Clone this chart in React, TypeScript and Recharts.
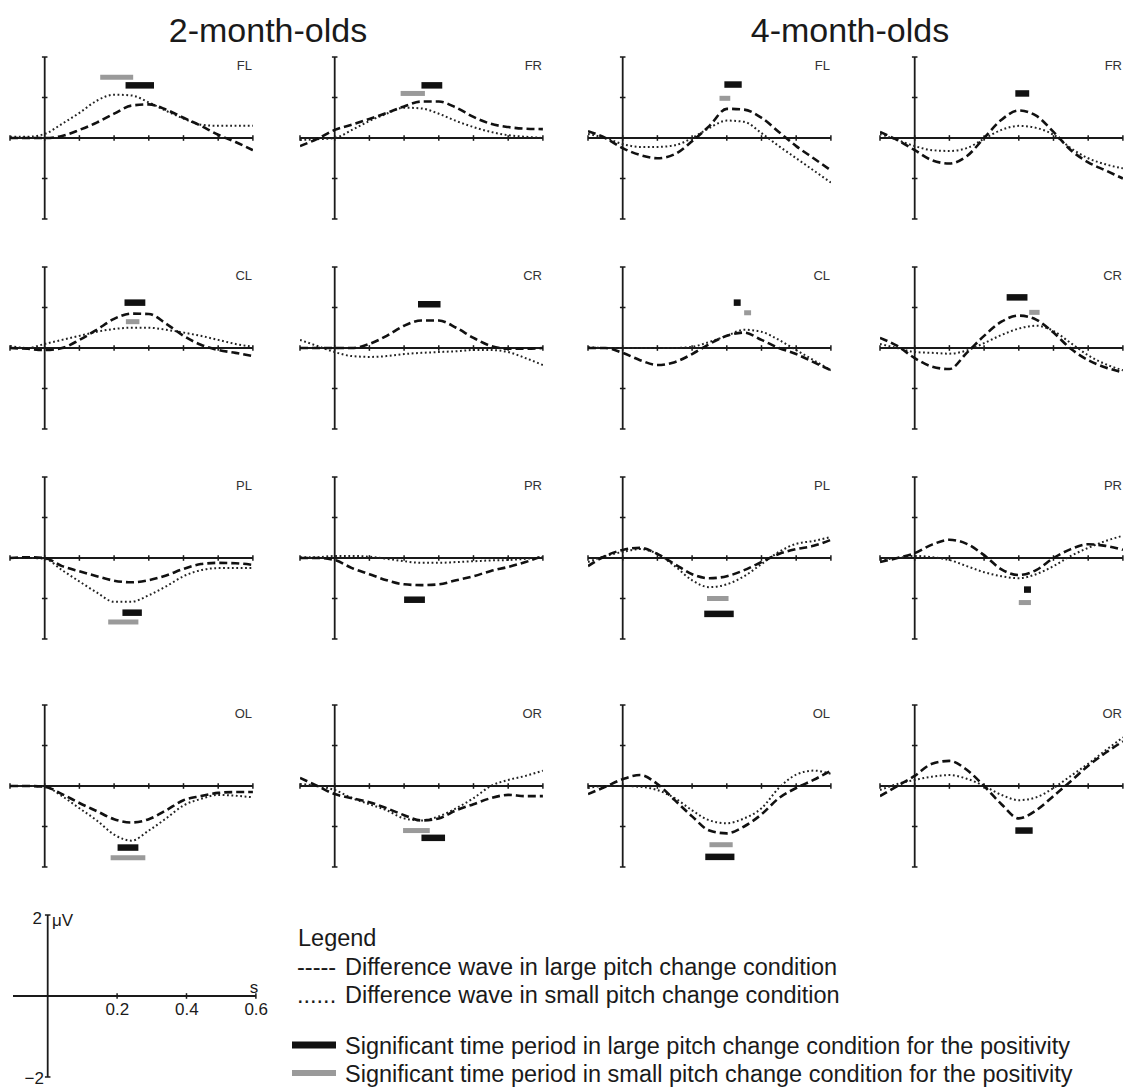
import React from 'react';
import { LineChart, Line, XAxis, YAxis, ReferenceLine } from 'recharts';

// sample times (s)
const times = [-0.1, -0.05, 0, 0.05, 0.1, 0.15, 0.2, 0.25, 0.3, 0.35, 0.4, 0.45, 0.5, 0.55, 0.6];
const xTicks = [-0.1, 0, 0.1, 0.2, 0.3, 0.4, 0.5, 0.6];
const yTicks = [-2, -1, 1, 2];

// difference waves (µV), large / small pitch change
const fl2Large = [0, 0, 0, 0.05, 0.2, 0.38, 0.6, 0.8, 0.83, 0.7, 0.5, 0.3, 0.08, -0.1, -0.3];
const fl2Small = [0.03, 0.03, 0.1, 0.35, 0.62, 0.92, 1.07, 1.05, 0.88, 0.67, 0.48, 0.33, 0.3, 0.3, 0.3];
const fr2Large = [-0.2, -0.02, 0.2, 0.33, 0.47, 0.62, 0.78, 0.9, 0.9, 0.75, 0.52, 0.35, 0.27, 0.23, 0.22];
const fr2Small = [-0.05, -0.03, 0, 0.2, 0.42, 0.6, 0.75, 0.73, 0.6, 0.42, 0.27, 0.15, 0.07, 0.03, 0];
const fl4Large = [0.17, 0, -0.25, -0.42, -0.5, -0.4, -0.08, 0.3, 0.72, 0.7, 0.5, 0.15, -0.2, -0.5, -0.8];
const fl4Small = [0.1, 0, -0.15, -0.22, -0.22, -0.18, 0, 0.25, 0.43, 0.4, 0.12, -0.2, -0.5, -0.8, -1.1];
const fr4Large = [0.15, -0.05, -0.3, -0.55, -0.63, -0.45, 0, 0.45, 0.68, 0.55, 0.15, -0.3, -0.6, -0.8, -1.0];
const fr4Small = [0.1, -0.05, -0.2, -0.3, -0.32, -0.25, -0.02, 0.2, 0.3, 0.25, 0.08, -0.25, -0.5, -0.65, -0.75];

const cl2Large = [0, -0.02, -0.05, 0, 0.2, 0.45, 0.72, 0.85, 0.84, 0.6, 0.3, 0.08, -0.05, -0.12, -0.2];
const cl2Small = [0.05, 0, 0.1, 0.2, 0.3, 0.4, 0.47, 0.5, 0.5, 0.45, 0.38, 0.3, 0.2, 0.1, 0.03];
const cr2Large = [0, 0, 0, 0, 0.1, 0.3, 0.55, 0.68, 0.68, 0.5, 0.25, 0.05, -0.02, -0.02, 0];
const cr2Small = [0.2, 0.05, -0.1, -0.2, -0.22, -0.2, -0.15, -0.12, -0.1, -0.08, -0.05, -0.05, -0.1, -0.25, -0.42];
const cl4Large = [0, 0, -0.12, -0.3, -0.42, -0.35, -0.15, 0.1, 0.3, 0.38, 0.2, 0, -0.15, -0.35, -0.55];
const cl4Small = [0.02, 0, 0, 0, 0, 0, 0.03, 0.15, 0.3, 0.45, 0.4, 0.2, -0.05, -0.3, -0.55];
const cr4Large = [0.25, 0.05, -0.25, -0.46, -0.52, -0.12, 0.3, 0.65, 0.8, 0.7, 0.38, -0.02, -0.3, -0.48, -0.6];
const cr4Small = [0.1, 0, -0.1, -0.12, -0.14, -0.06, 0.12, 0.32, 0.48, 0.55, 0.42, 0.12, -0.18, -0.4, -0.55];

const pl2Large = [0, 0.02, 0, -0.2, -0.33, -0.45, -0.56, -0.6, -0.55, -0.43, -0.27, -0.15, -0.12, -0.13, -0.17];
const pl2Small = [0, 0, -0.02, -0.3, -0.58, -0.85, -1.08, -1.08, -0.92, -0.7, -0.45, -0.3, -0.25, -0.25, -0.25];
const pr2Large = [0, 0, -0.05, -0.25, -0.4, -0.55, -0.65, -0.67, -0.65, -0.55, -0.45, -0.32, -0.22, -0.1, 0.05];
const pr2Small = [0.02, 0.02, 0.05, 0.05, 0.03, -0.02, -0.08, -0.12, -0.12, -0.1, -0.08, -0.06, -0.05, -0.02, 0.02];
const pl4Large = [-0.2, 0.05, 0.2, 0.25, 0.1, -0.15, -0.4, -0.5, -0.45, -0.3, -0.1, 0.1, 0.22, 0.3, 0.45];
const pl4Small = [-0.1, 0.05, 0.15, 0.22, 0.1, -0.2, -0.55, -0.72, -0.65, -0.45, -0.15, 0.15, 0.35, 0.42, 0.52];
const pr4Large = [-0.1, 0, 0.12, 0.33, 0.45, 0.35, 0.07, -0.28, -0.42, -0.3, 0, 0.22, 0.34, 0.3, 0.2];
const pr4Small = [-0.05, 0, 0.05, 0.02, -0.05, -0.2, -0.35, -0.45, -0.5, -0.4, -0.2, 0.05, 0.25, 0.42, 0.55];

const ol2Large = [0, 0, -0.02, -0.2, -0.42, -0.62, -0.82, -0.9, -0.82, -0.6, -0.35, -0.25, -0.17, -0.15, -0.15];
const ol2Small = [0, 0, -0.02, -0.25, -0.55, -0.85, -1.2, -1.35, -1.1, -0.8, -0.48, -0.32, -0.22, -0.24, -0.28];
const or2Large = [0.2, 0, -0.2, -0.3, -0.4, -0.55, -0.72, -0.85, -0.8, -0.6, -0.45, -0.3, -0.22, -0.25, -0.25];
const or2Small = [0.05, 0, -0.1, -0.3, -0.45, -0.6, -0.8, -0.85, -0.75, -0.55, -0.3, 0, 0.15, 0.25, 0.38];
const ol4Large = [-0.2, -0.02, 0.17, 0.27, 0.05, -0.35, -0.75, -1.1, -1.17, -1.0, -0.7, -0.3, -0.05, 0.15, 0.38];
const ol4Small = [-0.05, 0, 0, -0.02, -0.1, -0.3, -0.6, -0.85, -0.92, -0.8, -0.55, -0.05, 0.28, 0.38, 0.3];
const or4Large = [-0.25, 0, 0.25, 0.55, 0.62, 0.4, 0, -0.45, -0.8, -0.6, -0.25, 0.12, 0.5, 0.82, 1.1];
const or4Small = [-0.1, 0.05, 0.15, 0.23, 0.27, 0.18, 0, -0.22, -0.35, -0.28, -0.05, 0.25, 0.55, 0.88, 1.2];

// significant periods: [start s, end s, level µV]
type Sig = [number, number, number];
const fl2Sig: Sig[][] = [[[0.233, 0.315, 1.3]], [[0.16, 0.255, 1.5]]];
const fr2Sig: Sig[][] = [[[0.25, 0.31, 1.3]], [[0.19, 0.26, 1.1]]];
const fl4Sig: Sig[][] = [[[0.293, 0.343, 1.32]], [[0.279, 0.31, 0.98]]];
const fr4Sig: Sig[][] = [[[0.29, 0.33, 1.1]], []];
const cl2Sig: Sig[][] = [[[0.23, 0.29, 1.12]], [[0.234, 0.273, 0.65]]];
const cr2Sig: Sig[][] = [[[0.24, 0.305, 1.08]], []];
const cl4Sig: Sig[][] = [[[0.32, 0.34, 1.12]], [[0.35, 0.37, 0.87]]];
const cr4Sig: Sig[][] = [[[0.265, 0.325, 1.25]], [[0.33, 0.36, 0.88]]];
const pl2Sig: Sig[][] = [[[0.224, 0.28, -1.35]], [[0.183, 0.27, -1.58]]];
const pr2Sig: Sig[][] = [[[0.2, 0.26, -1.03]], []];
const pl4Sig: Sig[][] = [[[0.235, 0.32, -1.38]], [[0.243, 0.305, -1.0]]];
const pr4Sig: Sig[][] = [[[0.315, 0.335, -0.78]], [[0.3, 0.335, -1.1]]];
const ol2Sig: Sig[][] = [[[0.21, 0.27, -1.52]], [[0.19, 0.29, -1.77]]];
const or2Sig: Sig[][] = [[[0.25, 0.318, -1.28]], [[0.197, 0.274, -1.1]]];
const ol4Sig: Sig[][] = [[[0.238, 0.322, -1.75]], [[0.25, 0.317, -1.45]]];
const or4Sig: Sig[][] = [[[0.29, 0.34, -1.1]], []];

const panels = [
  { label: 'FL', row: 0, col: 0, large: fl2Large, small: fl2Small, sig: fl2Sig },
  { label: 'FR', row: 0, col: 1, large: fr2Large, small: fr2Small, sig: fr2Sig },
  { label: 'FL', row: 0, col: 2, large: fl4Large, small: fl4Small, sig: fl4Sig },
  { label: 'FR', row: 0, col: 3, large: fr4Large, small: fr4Small, sig: fr4Sig },
  { label: 'CL', row: 1, col: 0, large: cl2Large, small: cl2Small, sig: cl2Sig },
  { label: 'CR', row: 1, col: 1, large: cr2Large, small: cr2Small, sig: cr2Sig },
  { label: 'CL', row: 1, col: 2, large: cl4Large, small: cl4Small, sig: cl4Sig },
  { label: 'CR', row: 1, col: 3, large: cr4Large, small: cr4Small, sig: cr4Sig },
  { label: 'PL', row: 2, col: 0, large: pl2Large, small: pl2Small, sig: pl2Sig },
  { label: 'PR', row: 2, col: 1, large: pr2Large, small: pr2Small, sig: pr2Sig },
  { label: 'PL', row: 2, col: 2, large: pl4Large, small: pl4Small, sig: pl4Sig },
  { label: 'PR', row: 2, col: 3, large: pr4Large, small: pr4Small, sig: pr4Sig },
  { label: 'OL', row: 3, col: 0, large: ol2Large, small: ol2Small, sig: ol2Sig },
  { label: 'OR', row: 3, col: 1, large: or2Large, small: or2Small, sig: or2Sig },
  { label: 'OL', row: 3, col: 2, large: ol4Large, small: ol4Small, sig: ol4Sig },
  { label: 'OR', row: 3, col: 3, large: or4Large, small: or4Small, sig: or4Sig },
];

const PX_S = 347;
const PX_UV = 40.5;
const M = 6;
const W = 0.7 * PX_S;
const H = 4 * PX_UV;
const COLS = [45, 335, 623, 915];
const ROWS = [138, 348, 558, 786];
const FONT = '"Liberation Sans", Arial, Helvetica, sans-serif';
const INK = '#1a1a1a';

function Axes({ xt, yt }: { xt: number[]; yt: number[] }) {
  return (
    <>
      <ReferenceLine y={0} stroke={INK} strokeWidth={1.8} />
      <ReferenceLine x={0} stroke={INK} strokeWidth={1.8} />
      {xt.map((t) => (
        <ReferenceLine key={`xt${t}`} segment={[{ x: t, y: -0.07 }, { x: t, y: 0.07 }]} stroke={INK} strokeWidth={1.5} />
      ))}
      {yt.map((v) => (
        <ReferenceLine key={`yt${v}`} segment={[{ x: -0.008, y: v }, { x: 0.008, y: v }]} stroke={INK} strokeWidth={1.5} />
      ))}
    </>
  );
}

function Panel({ p }: { p: (typeof panels)[number] }) {
  const data = times.map((t, i) => ({ t, large: p.large[i], small: p.small[i] }));
  const left = COLS[p.col] - 0.1 * PX_S - M;
  const top = ROWS[p.row] - 2 * PX_UV - M;
  return (
    <div style={{ position: 'absolute', left, top }}>
      <LineChart width={W + 2 * M} height={H + 2 * M} data={data} margin={{ top: M, right: M, bottom: M, left: M }}>
        <XAxis dataKey="t" type="number" domain={[-0.1, 0.6]} hide allowDataOverflow />
        <YAxis type="number" domain={[-2, 2]} hide allowDataOverflow />
        <Axes xt={xTicks} yt={yTicks} />
        {p.sig[0].map(([a, b, v], i) => (
          <ReferenceLine key={`l${i}`} segment={[{ x: a, y: v }, { x: b, y: v }]} stroke="#111" strokeWidth={6.5} />
        ))}
        {p.sig[1].map(([a, b, v], i) => (
          <ReferenceLine key={`s${i}`} segment={[{ x: a, y: v }, { x: b, y: v }]} stroke="#9a9a9a" strokeWidth={5} />
        ))}
        <Line dataKey="small" type="monotone" stroke="#222" strokeWidth={2} strokeDasharray="1.8 2.6" dot={false} isAnimationActive={false} />
        <Line dataKey="large" type="monotone" stroke="#111" strokeWidth={2.6} strokeDasharray="8 4" dot={false} isAnimationActive={false} />
      </LineChart>
    </div>
  );
}

const scaleX = [-0.1, 0.6];
const scaleXTicks = [0.2, 0.4, 0.6];
const scaleYTicks = [-2, 2];
const S0 = { x: 48, y: 996 };

function ScalePanel() {
  const data = scaleX.map((t) => ({ t }));
  return (
    <div style={{ position: 'absolute', left: S0.x - 0.1 * PX_S - M, top: S0.y - 2 * PX_UV - M }}>
      <LineChart width={W + 2 * M} height={H + 2 * M} data={data} margin={{ top: M, right: M, bottom: M, left: M }}>
        <XAxis dataKey="t" type="number" domain={[-0.1, 0.6]} hide allowDataOverflow />
        <YAxis type="number" domain={[-2, 2]} hide allowDataOverflow />
        <Axes xt={scaleXTicks} yt={scaleYTicks} />
      </LineChart>
    </div>
  );
}

const legendRows = [
  { sample: '-----', text: 'Difference wave in large pitch change condition', y: 975 },
  { sample: '......', text: 'Difference wave in small pitch change condition', y: 1003 },
];
const legendBars = [
  { color: '#111', h: 7, text: 'Significant time period in large pitch change condition for the positivity', y: 1054 },
  { color: '#9a9a9a', h: 6, text: 'Significant time period in small pitch change condition for the positivity', y: 1082 },
];

export default function App() {
  return (
    <div style={{ position: 'absolute', left: 0, top: 0, width: 1126, height: 1088, background: '#fff', overflow: 'hidden' }}>
      {panels.map((p, i) => (
        <Panel key={i} p={p} />
      ))}
      <ScalePanel />
      <svg width={1126} height={1088} style={{ position: 'absolute', left: 0, top: 0, pointerEvents: 'none' }} fontFamily={FONT} fill={INK}>
        <text x={268} y={42} fontSize={34} textAnchor="middle">2-month-olds</text>
        <text x={850} y={42} fontSize={34} textAnchor="middle">4-month-olds</text>
        {panels.map((p, i) => (
          <text key={i} x={COLS[p.col] + 207} y={ROWS[p.row] - 68} fontSize={13} textAnchor="end" fill="#333">
            {p.label}
          </text>
        ))}
        {/* scale labels */}
        <text x={42} y={924} fontSize={17} textAnchor="end">2</text>
        <text x={52} y={926} fontSize={17}>μV</text>
        <text x={44} y={1084} fontSize={17} textAnchor="end">−2</text>
        {scaleXTicks.map((t) => (
          <text key={t} x={S0.x + t * PX_S} y={1015} fontSize={17} textAnchor="middle">{t.toFixed(1)}</text>
        ))}
        <text x={254} y={993} fontSize={17} textAnchor="middle">s</text>
        {/* legend */}
        <text x={298} y={946} fontSize={23.5}>Legend</text>
        {legendRows.map((r) => (
          <g key={r.text}>
            <text x={297} y={r.y} fontSize={23.5}>{r.sample}</text>
            <text x={345} y={r.y} fontSize={23.5}>{r.text}</text>
          </g>
        ))}
        {legendBars.map((r) => (
          <g key={r.text}>
            <rect x={292} y={r.y - 9 - r.h / 2} width={44} height={r.h} fill={r.color} />
            <text x={345} y={r.y} fontSize={23.5}>{r.text}</text>
          </g>
        ))}
      </svg>
    </div>
  );
}
